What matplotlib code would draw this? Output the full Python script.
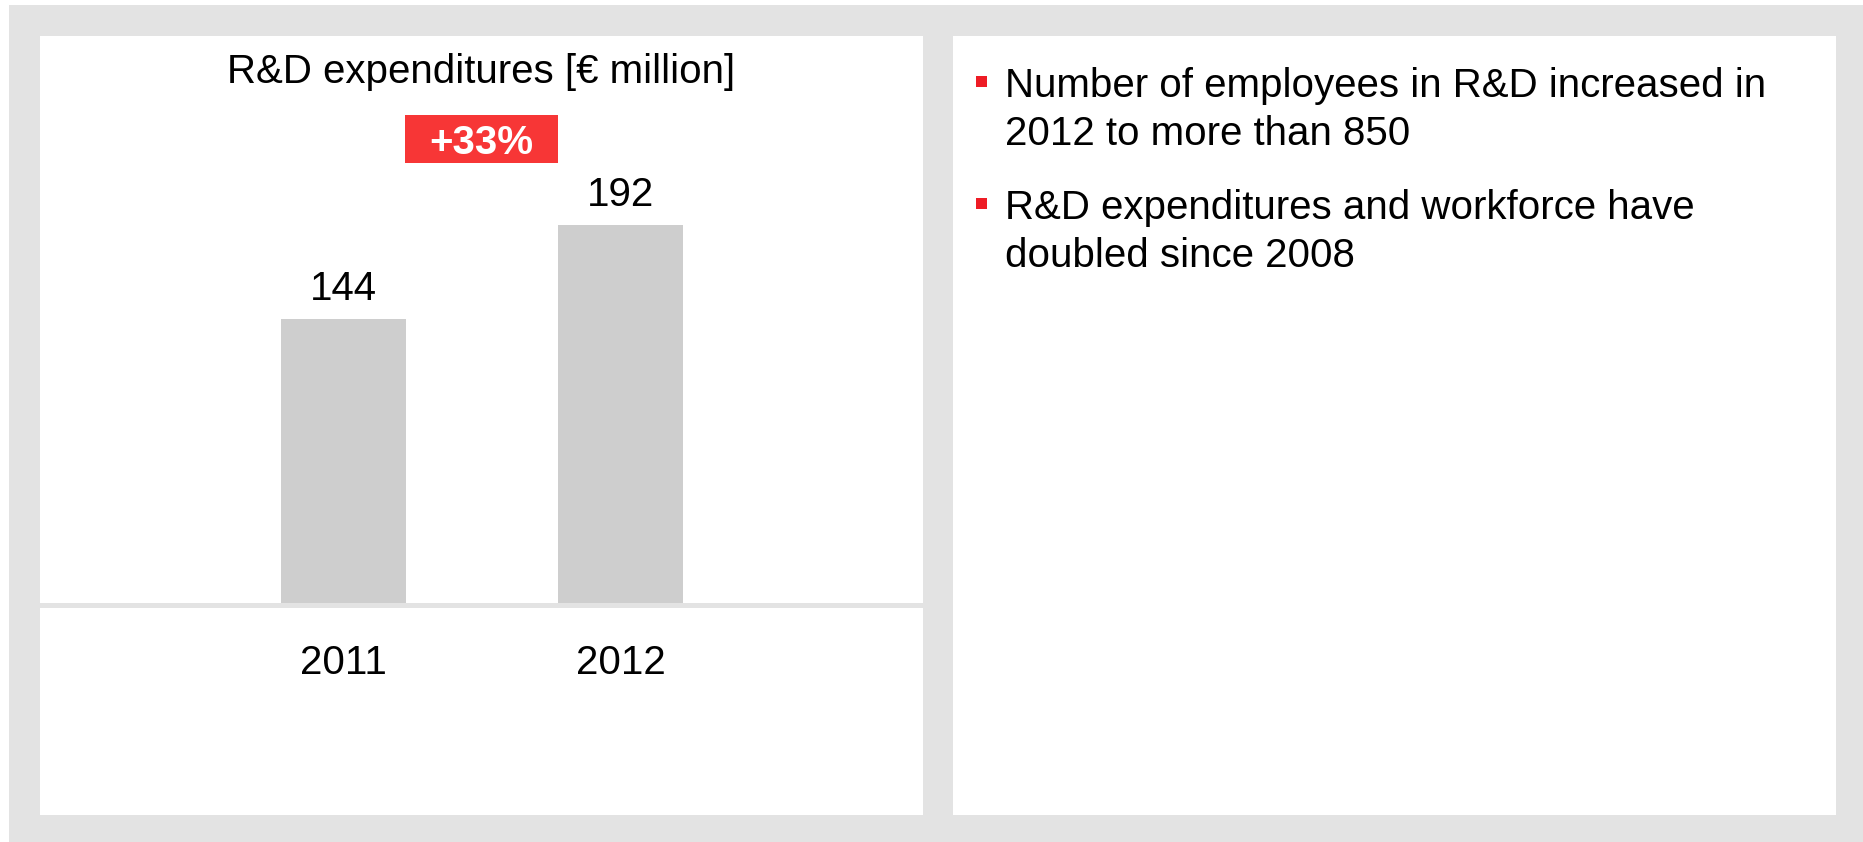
import matplotlib
matplotlib.use("Agg")
import matplotlib.pyplot as plt
from matplotlib.patches import Rectangle

# ---- data ----
years = ["2011", "2012"]
expenditures = [144, 192]
growth_label = "+33%"
chart_title = "R&D expenditures [€ million]"
bullets = [
    ["Number of employees in R&D increased in", "2012 to more than 850"],
    ["R&D expenditures and workforce have", "doubled since 2008"],
]

W, H = 1863, 842
plt.rcParams['font.family'] = ['Liberation Sans', 'DejaVu Sans']
fig = plt.figure(figsize=(W / 100, H / 100), dpi=100)
fig.patch.set_facecolor("white")

GRAY_BG = "#e3e3e3"
BAR = "#cecece"
RED_BOX = "#f73636"
RED_BULLET = "#ee1c25"
FS = 29


def fx(x):
    return x / W


def fy(y):
    return 1 - y / H


def px2pt(p):
    return p * 72 / 100


def frect(x0, y0, x1, y1, color, z=0):
    fig.patches.append(Rectangle((fx(x0), fy(y1)), fx(x1) - fx(x0), fy(y0) - fy(y1),
                                 transform=fig.transFigure, facecolor=color,
                                 edgecolor="none", zorder=z))


# outer grey frame and white panels
frect(9, 5, W, H, GRAY_BG, 0)
frect(40, 36, 923, 815, "white", 1)
frect(953, 36, 1836, 815, "white", 1)
# baseline band
frect(40, 603, 923, 608, GRAY_BG, 2)

# ---- bar chart axes ----
px_per_unit = 1.97
ax_left, ax_right, ax_bottom, ax_top = 40, 923, 603, 36
ax = fig.add_axes([fx(ax_left), fy(ax_bottom), fx(ax_right) - fx(ax_left), fy(ax_top) - fy(ax_bottom)])
ax.set_zorder(5)
ax.set_facecolor("none")
unit = 277.0
c0 = 303.5
ax.set_xlim(-c0 / unit, (ax_right - ax_left - c0) / unit)
ax.set_ylim(0, (ax_bottom - ax_top) / px_per_unit)
xs = list(range(len(years)))
ax.bar(xs, expenditures, width=125 / unit, color=BAR, zorder=2)
for x, v in zip(xs, expenditures):
    ax.annotate(str(v), (x, v), xytext=(0, px2pt(19)), textcoords="offset points",
                ha="center", va="baseline", fontsize=FS, color="black")
for x, yr in zip(xs, years):
    ax.annotate(yr, (x, 0), xytext=(0, -px2pt(71)), textcoords="offset points",
                ha="center", va="baseline", fontsize=FS, color="black",
                annotation_clip=False)
ax.set_xticks([])
ax.set_yticks([])
for s in ax.spines.values():
    s.set_visible(False)

# growth box
frect(405, 115, 558, 163, RED_BOX, 3)
fig.text(fx(481.5), fy(154), growth_label, ha="center", va="baseline", fontsize=FS,
         fontweight="bold", color="white", zorder=6)

# title
fig.text(fx(481.5), fy(83), chart_title, ha="center", va="baseline", fontsize=FS,
         color="black", zorder=6)

# ---- bullets ----
line_h = 48
block_starts = [97, 219]
for start, lines in zip(block_starts, bullets):
    frect(976, start - 21, 987, start - 10, RED_BULLET, 3)
    for i, ln in enumerate(lines):
        fig.text(fx(1005), fy(start + i * line_h), ln, ha="left", va="baseline",
                 fontsize=FS, color="black", zorder=6)

fig.savefig("out.png", dpi=100, facecolor="white")
